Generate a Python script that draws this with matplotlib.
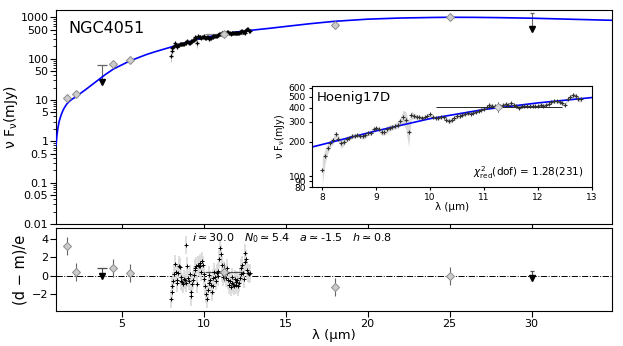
import numpy as np
import matplotlib
matplotlib.use('Agg')
import matplotlib.pyplot as plt
from matplotlib.ticker import FixedLocator, FixedFormatter, LogLocator, NullLocator, NullFormatter

# photometry, nuFnu in mJy
phot_lam = [1.65, 2.2, 4.5, 5.5, 11.25, 18.0, 25.0]
phot_flux = [11, 14, 75, 92, 405, 650, 990]
phot_err = [0.9, 1.1, 12, 15, 40, 60, 90]
phot_res = [3.3, 0.35, 0.85, 0.3, 0.35, -1.3, -0.05]
nband_lo, nband_hi = 10.1, 12.45   # width of the 11.25um point

# upper limits
ul_lam = [3.8, 30.0]
ul_flux = [70, 1300]
ul_tip = [27, 520]
ul_res = [0.85, 0.55]
ul_res_tip = [-0.05, -0.3]

# model SED
mod_lam = [1.0, 1.05, 1.1, 1.15, 1.2, 1.3, 1.4, 1.5, 1.65, 1.8, 2.0, 2.2, 2.5, 2.9,
           3.4, 4.0, 4.5, 5.5, 6.5, 7.0, 8.0, 9.0, 10.0, 11.0, 12.0, 13.0, 14.0,
           15.0, 16.5, 18.0, 20.0, 22.0, 24.0, 25.0, 26.5, 28.0, 30.0, 32.0, 34.9]
mod_flux = [0.8, 1.3, 1.9, 2.5, 3.1, 4.2, 5.3, 6.4, 7.9, 9.2, 10.6, 11.8, 14.5, 19,
            27, 41, 56, 88, 125, 145, 190, 250, 320, 385, 440, 490, 540,
            600, 700, 800, 900, 960, 990, 1000, 995, 980, 950, 905, 845]

# N-band spectrum
spec_lam = [8.00, 8.05, 8.10, 8.15, 8.20, 8.25, 8.30, 8.35, 8.40, 8.45,
            8.50, 8.55, 8.60, 8.65, 8.70, 8.75, 8.80, 8.85, 8.90, 8.95,
            9.00, 9.05, 9.10, 9.15, 9.20, 9.25, 9.30, 9.35, 9.40, 9.45,
            9.50, 9.55, 9.60, 9.65, 9.70, 9.75, 9.80, 9.85, 9.90, 9.95,
            10.00, 10.05, 10.10, 10.15, 10.20, 10.25, 10.30, 10.35, 10.40, 10.45,
            10.50, 10.55, 10.60, 10.65, 10.70, 10.75, 10.80, 10.85, 10.90, 10.95,
            11.00, 11.05, 11.10, 11.15, 11.20, 11.25, 11.30, 11.35, 11.40, 11.45,
            11.50, 11.55, 11.60, 11.65, 11.70, 11.75, 11.80, 11.85, 11.90, 11.95,
            12.00, 12.05, 12.10, 12.15, 12.20, 12.25, 12.30, 12.35, 12.40, 12.45,
            12.50, 12.55, 12.60, 12.65, 12.70, 12.75, 12.80]
spec_flux = [114, 150, 176, 194, 206, 235, 213, 194, 200, 213,
             216, 224, 227, 230, 227, 224, 230, 239, 239, 258,
             266, 258, 242, 242, 258, 266, 270, 275, 284, 303,
             334, 313, 242, 345, 338, 334, 330, 323, 330, 338,
             349, 330, 323, 323, 330, 330, 313, 303, 313, 323,
             338, 340, 345, 355, 360, 355, 360, 368, 375, 385,
             392, 404, 425, 417, 410, 404, 410, 425, 431, 425,
             437, 425, 410, 399, 410, 417, 410, 410, 415, 410,
             415, 425, 417, 425, 431, 446, 454, 454, 446, 437,
             425, 475, 496, 515, 507, 475, 475]
spec_err = [30, 22, 18, 15, 14, 16, 14, 18, 15, 12,
            10, 10, 9, 9, 10, 12, 14, 12, 10, 10,
            9, 10, 12, 14, 18, 16, 14, 16, 20, 25,
            45, 55, 60, 30, 20, 15, 12, 10, 10, 10,
            10, 10, 9, 9, 9, 10, 12, 14, 15, 16,
            18, 16, 14, 12, 10, 10, 10, 10, 10, 12,
            12, 12, 12, 12, 12, 12, 12, 12, 12, 12,
            14, 14, 15, 15, 14, 12, 12, 12, 12, 12,
            12, 12, 14, 14, 14, 15, 15, 15, 15, 16,
            18, 20, 22, 24, 25, 25, 25]
spec_res = [-2.6, -1.8, -1.2, -0.6, 0.2, 1.3, 0.4, -0.8, -0.5, 0.3,
            1.1, 0.9, -0.2, -0.6, -0.7, -0.9, -0.4, -0.5, -0.8, 3.4,
            1.0, -0.3, -0.6, 0.2, -1.8, -2.3, -0.9, -0.5, 0.1, 0.6,
            0.8, 1.0, -0.9, 1.2, 1.0, 1.4, 1.1, 0.4, 1.6, 1.2,
            0.2, -0.4, -1.2, -2.0, -2.6, -1.6, -0.8, 0.1, -0.5, -1.0,
            -1.8, -1.1, -0.3, 0.4, -0.2, -0.6, 0.3, -0.1, 0.5, 1.8,
            3.0, 2.4, 1.2, 0.3, -0.2, 0.6, 0.2, -0.3, 0.8, 0.3,
            -0.5, -1.0, -0.6, -1.3, -0.8, -0.2, -0.9, -1.1, -0.4, -0.7,
            -1.0, -0.5, -1.2, -0.8, -0.3, 0.2, 0.8, 1.2, 0.3, -0.4,
            1.5, 2.5, 1.8, 0.6, 0.3, 0.2, 0.3]

yticks_main = [0.01, 0.05, 0.1, 0.5, 1, 5, 10, 50, 100, 500, 1000]
ylabels_main = ['0.01', '0.05', '0.1', '0.5', '1', '5', '10', '50', '100', '500', '1000']
yticks_inset = [80, 90, 100, 200, 300, 400, 500, 600]
ylabels_inset = ['80', '90', '100', '200', '300', '400', '500', '600']

spec_lam = np.array(spec_lam)
spec_flux = np.array(spec_flux)
spec_err = np.array(spec_err)
spec_res = np.array(spec_res)

diam = dict(fmt='D', ms=4.5, mfc='0.8', mec='0.55', mew=0.7)
ylab = r'ν F$_{\mathrm{\nu}}$(mJy)'

fig = plt.figure(figsize=(6.23, 3.46), dpi=100)
ax = fig.add_axes([0.0899, 0.3526, 0.8925, 0.6185])
axr = fig.add_axes([0.0899, 0.1, 0.8925, 0.24])
axi = fig.add_axes([0.500, 0.4587, 0.450, 0.293])

# ---- main SED panel
ax.plot(mod_lam, mod_flux, color='blue', lw=1.2, zorder=3)
ax.errorbar(spec_lam, spec_flux, yerr=spec_err, fmt='+', color='k', ms=2.5, mew=0.9,
            ecolor='0.75', elinewidth=0.6, zorder=4)
ax.errorbar([phot_lam[4]], [phot_flux[4]],
            xerr=[[phot_lam[4] - nband_lo], [nband_hi - phot_lam[4]]],
            fmt='none', ecolor='0.55', elinewidth=0.9, zorder=4)
ax.errorbar(phot_lam, phot_flux, yerr=phot_err, ecolor='0.45', elinewidth=0.8, zorder=5, **diam)
ax.vlines(ul_lam, ul_tip, ul_flux, color='0.4', lw=0.8)
ax.scatter(ul_lam, ul_flux, marker='_', s=[60, 8], c='0.4', linewidths=0.9)
ax.plot(ul_lam, ul_tip, 'v', color='k', ms=4)

ax.set_yscale('log')
ax.set_xlim(1, 34.9)
ax.set_ylim(0.01, 1500)
ax.yaxis.set_major_locator(FixedLocator(yticks_main))
ax.yaxis.set_major_formatter(FixedFormatter(ylabels_main))
ax.yaxis.set_minor_locator(LogLocator(subs=range(2, 10), numticks=20))
ax.yaxis.set_minor_formatter(NullFormatter())
ax.set_xticks([5, 10, 15, 20, 25, 30])
ax.tick_params(axis='x', labelbottom=False)
ax.tick_params(direction='out', labelsize=8, length=4, pad=1.5)
ax.tick_params(which='minor', direction='out', length=2.5)
ax.set_ylabel(ylab, fontsize=10, labelpad=0)
ax.text(0.022, 0.95, 'NGC4051', transform=ax.transAxes, fontsize=11.5, va='top')

# ---- inset, zoom on the spectrum
axi.fill_between(spec_lam, spec_flux - spec_err, spec_flux + spec_err, color='0.85', lw=0)
axi.plot(mod_lam, mod_flux, color='blue', lw=1.2)
axi.plot(spec_lam, spec_flux, '+', color='0.2', ms=2.5, mew=0.8)
axi.errorbar([phot_lam[4]], [phot_flux[4]],
             xerr=[[phot_lam[4] - nband_lo], [nband_hi - phot_lam[4]]],
             yerr=[phot_err[4]], fmt='D', ms=4, mfc='0.85', mec='0.55', mew=0.6,
             ecolor='0.15', elinewidth=0.7)
axi.set_yscale('log')
axi.set_xlim(7.8, 13)
axi.set_ylim(80, 620)
axi.yaxis.set_major_locator(FixedLocator(yticks_inset))
axi.yaxis.set_major_formatter(FixedFormatter(ylabels_inset))
axi.yaxis.set_minor_locator(NullLocator())
axi.set_xticks([8, 9, 10, 11, 12, 13])
axi.tick_params(direction='out', labelsize=6.5, length=2.5, pad=1.5)
axi.set_ylabel(ylab, fontsize=7, labelpad=1)
axi.set_xlabel('λ (μm)', fontsize=7.5, labelpad=0)
axi.text(0.02, 0.95, 'Hoenig17D', transform=axi.transAxes, fontsize=9.5, va='top')
axi.text(0.97, 0.06, r'$\chi^2_{\rm red}$(dof) = 1.28(231)', transform=axi.transAxes,
         fontsize=7.5, ha='right', va='bottom')

# ---- residuals
axr.axhline(0, color='k', ls='-.', lw=0.7)
axr.errorbar(spec_lam, spec_res, yerr=1, fmt='+', color='k', ms=2.5, mew=0.7,
             ecolor='0.85', elinewidth=1.2)
axr.errorbar([phot_lam[4]], [phot_res[4]],
             xerr=[[phot_lam[4] - nband_lo], [nband_hi - phot_lam[4]]],
             fmt='none', ecolor='0.3', elinewidth=0.9)
axr.errorbar(phot_lam, phot_res, yerr=1, ecolor='0.4', elinewidth=0.8, zorder=5, **diam)
axr.vlines(ul_lam, ul_res_tip, ul_res, color='0.3', lw=0.8)
axr.scatter(ul_lam, ul_res, marker='_', s=[60, 8], c='0.3', linewidths=0.9)
axr.plot(ul_lam, ul_res_tip, 'v', color='k', ms=4)
axr.set_xlim(1, 34.9)
axr.set_ylim(-3.95, 5.2)
axr.set_yticks([-2, 0, 2, 4])
axr.set_yticklabels(['−2', '0', '2', '4'])
axr.set_xticks([5, 10, 15, 20, 25, 30])
axr.tick_params(direction='out', labelsize=8, length=4, pad=1.5)
axr.set_xlabel('λ (μm)', fontsize=9.5, labelpad=0)
axr.set_ylabel('(d − m)/e', fontsize=10.5, labelpad=3)
axr.text(0.425, 0.97, r'$i\simeq$30.0   $N_0\simeq$5.4   $a\simeq$-1.5   $h\simeq$0.8',
         transform=axr.transAxes, fontsize=8, ha='center', va='top')

fig.savefig('out.png', dpi=100)
